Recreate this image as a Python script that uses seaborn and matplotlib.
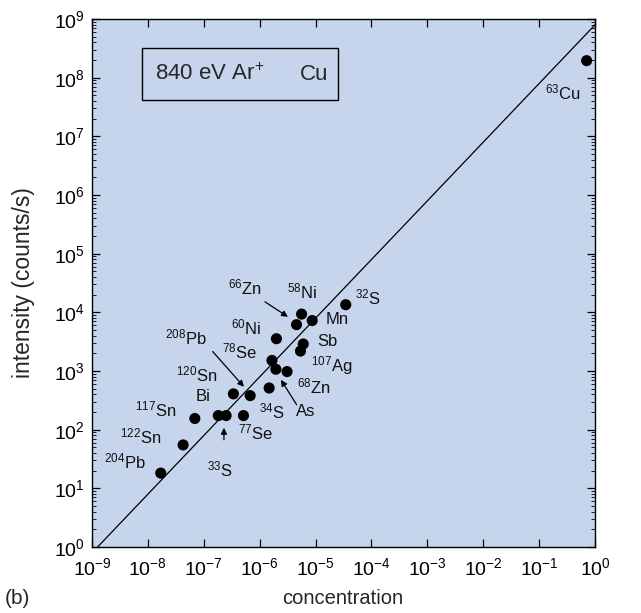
import numpy as np
import pandas as pd
import matplotlib
matplotlib.use("Agg")
import matplotlib.pyplot as plt
from matplotlib.patches import Rectangle
import seaborn as sns

# ---- data (log10 values) ----
log_conc = [-0.15, -4.46, -5.25, -5.06, -5.34, -5.70, -5.22, -5.27, -5.78, -5.71,
            -5.51, -5.83, -6.47, -6.17, -6.74, -6.60, -6.29, -7.16, -7.37, -7.77]
log_int = [8.29, 4.13, 3.97, 3.86, 3.79, 3.55, 3.46, 3.34, 3.18, 3.03,
           2.99, 2.71, 2.61, 2.58, 2.24, 2.24, 2.24, 2.19, 1.74, 1.26]
concentration = [10 ** v for v in log_conc]
intensity = [10 ** v for v in log_int]

# reference line intensity = k * concentration
line_conc = [10 ** -8.9, 1.0]
line_int = [1.0, 10 ** 8.9]

labels = ["$^{63}$Cu", "$^{66}$Zn", "$^{58}$Ni", "$^{32}$S", "Mn", "$^{60}$Ni", "Sb",
          "$^{208}$Pb", "$^{78}$Se", "$^{107}$Ag", "$^{120}$Sn", "$^{68}$Zn", "Bi",
          "$^{34}$S", "As", "$^{117}$Sn", "$^{77}$Se", "$^{122}$Sn", "$^{204}$Pb", "$^{33}$S"]
label_x = [-0.574, -6.263, -5.243, -4.063, -4.617, -6.245, -4.796, -7.318, -6.352, -4.707,
           -7.122, -5.029, -7.014, -5.780, -5.172, -7.855, -6.066, -8.123, -8.410, -6.710]
label_y = [7.74, 4.417, 4.349, 4.247, 3.872, 3.736, 3.497, 3.566, 3.327, 3.085,
           2.935, 2.745, 2.561, 2.305, 2.305, 2.339, 1.947, 1.879, 1.453, 1.317]

arrows = [((-5.905, 4.179), (-5.494, 3.923)),
          ((-6.841, 3.332), (-6.281, 2.731)),
          ((-5.338, 2.424), (-5.619, 2.850)),
          ((-6.639, 1.828), (-6.639, 2.032))]

sns.set_theme(style="ticks")
plt.rcParams['font.family'] = ['Liberation Sans', 'DejaVu Sans']
plt.rcParams['mathtext.fontset'] = 'custom'
plt.rcParams['mathtext.rm'] = 'Liberation Sans'
plt.rcParams['mathtext.it'] = 'Liberation Sans'
plt.rcParams['mathtext.default'] = 'regular'

fig = plt.figure(figsize=(6.41, 6.13), dpi=100)
ax = fig.add_axes([92 / 641, 1 - 547 / 613, 503 / 641, 528 / 613])
ax.set_facecolor('#c6d5ec')

df = pd.DataFrame({"concentration": concentration, "intensity": intensity})
line_df = pd.DataFrame({"concentration": line_conc, "intensity": line_int})

sns.lineplot(data=line_df, x="concentration", y="intensity", color='black', lw=0.9, ax=ax)
sns.scatterplot(data=df, x="concentration", y="intensity", color='black', s=64,
                edgecolor='none', ax=ax, zorder=5)

ax.set_xscale('log')
ax.set_yscale('log')
ax.set_xlim(1e-9, 1e0)
ax.set_ylim(1e0, 1e9)
ax.set_xticks([10.0 ** k for k in range(-9, 1)])
ax.set_yticks([10.0 ** k for k in range(0, 10)])
ax.tick_params(which='both', direction='in', top=True, right=True, colors='black',
               labelsize=14)
ax.tick_params(which='major', length=6, width=0.9)
ax.tick_params(which='minor', length=3, width=0.6)
ax.tick_params(axis='x', pad=7)
ax.tick_params(axis='y', pad=5)
for sp in ax.spines.values():
    sp.set_color('black')
    sp.set_linewidth(1.0)

ax.set_xlabel("")
ax.set_ylabel("intensity (counts/s)", fontsize=16.5)
ax.yaxis.set_label_coords(-0.113, 0.5)

for lab, lx, ly in zip(labels, label_x, label_y):
    ax.text(10 ** lx, 10 ** ly, lab, ha='center', va='center', fontsize=12, color='#111111')

for (x0, y0), (x1, y1) in arrows:
    ax.annotate("", xy=(10 ** x1, 10 ** y1), xytext=(10 ** x0, 10 ** y0),
                arrowprops=dict(arrowstyle='-|>', color='black', lw=0.9,
                                mutation_scale=9, shrinkA=0, shrinkB=0))

ax.add_patch(Rectangle((0.0994, 0.846), 0.39, 0.0985, transform=ax.transAxes,
                       facecolor='none', edgecolor='black', lw=1.0, zorder=6))
ax.text(0.125, 0.895, "840 eV Ar$^{+}$", transform=ax.transAxes, fontsize=16,
        ha='left', va='center')
ax.text(0.4135, 0.895, "Cu", transform=ax.transAxes, fontsize=16,
        ha='left', va='center')

fig.text(343 / 641, 1 - 598 / 613, "concentration", ha='center', va='center', fontsize=14.5)
fig.text(5 / 641, 1 - 598 / 613, "(b)", ha='left', va='center', fontsize=15)

fig.savefig("out.png", dpi=100)
